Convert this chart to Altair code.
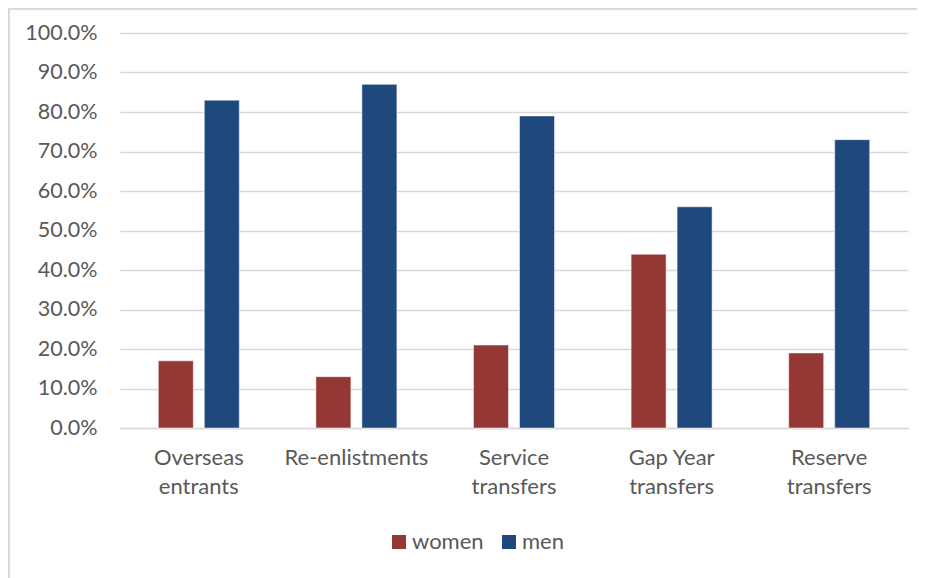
import altair as alt
import pandas as pd

categories = ["Overseas\nentrants", "Re-enlistments", "Service\ntransfers", "Gap Year\ntransfers", "Reserve\ntransfers"]
series = ["women", "men"]
women = [0.17, 0.13, 0.21, 0.44, 0.19]
men = [0.83, 0.87, 0.79, 0.56, 0.73]
y_ticks = [i / 10 for i in range(11)]
colors = ["#953735", "#1F497D"]

rows = []
for c, w, m in zip(categories, women, men):
    rows.append({"category": c, "series": "women", "value": w})
    rows.append({"category": c, "series": "men", "value": m})
df = pd.DataFrame(rows)

FONT = "Lato"
GRAY = "#595959"
GRID = "#D9D9D9"

bars = alt.Chart(df).mark_bar(stroke="white", strokeWidth=0.5).encode(
    x=alt.X("category:N", sort=categories, title=None,
            scale=alt.Scale(paddingInner=0.486, paddingOuter=0.243),
            axis=alt.Axis(labelExpr="split(datum.label, '\\n')", labelAngle=0,
                          labelFontSize=22, labelLineHeight=29, labelColor=GRAY,
                          labelFont=FONT, labelPadding=19, ticks=False,
                          domainColor=GRID, domainWidth=1.5, grid=False)),
    xOffset=alt.XOffset("series:N", sort=series,
                        scale=alt.Scale(paddingInner=0.239, paddingOuter=0)),
    y=alt.Y("value:Q", title=None,
            scale=alt.Scale(domain=[0, 1], nice=False),
            axis=alt.Axis(values=y_ticks, format=".1%", labelFontSize=21.5,
                          labelColor=GRAY, labelFont=FONT, labelPadding=23,
                          ticks=False, domain=False, gridColor=GRID, gridWidth=1.5)),
    color=alt.Color("series:N", sort=series,
                    scale=alt.Scale(domain=series, range=colors),
                    legend=alt.Legend(title=None, orient="none", direction="horizontal",
                                      legendX=268, legendY=498, symbolType="square",
                                      symbolSize=196, symbolStrokeWidth=0,
                                      labelFontSize=22, labelColor=GRAY, labelFont=FONT,
                                      columnPadding=14, labelOffset=2)),
)

border_left = alt.Chart(df).mark_rule(color=GRID, strokeWidth=1.5, clip=False).encode(
    x=alt.value(-111.5), y=alt.value(-25), y2=alt.value(555))
border_top = alt.Chart(df).mark_rule(color=GRID, strokeWidth=1.5, clip=False).encode(
    x=alt.value(-112), x2=alt.value(805), y=alt.value(-24.5))

chart = alt.layer(bars, border_left, border_top).properties(
    width=788, height=395,
    padding={"left": 112, "top": 25, "right": 9, "bottom": 150},
    autosize=alt.AutoSizeParams(type="none"),
    background="white",
).configure_view(stroke=None)

chart.save("out.html", embed_options={"renderer": "svg", "actions": False})
